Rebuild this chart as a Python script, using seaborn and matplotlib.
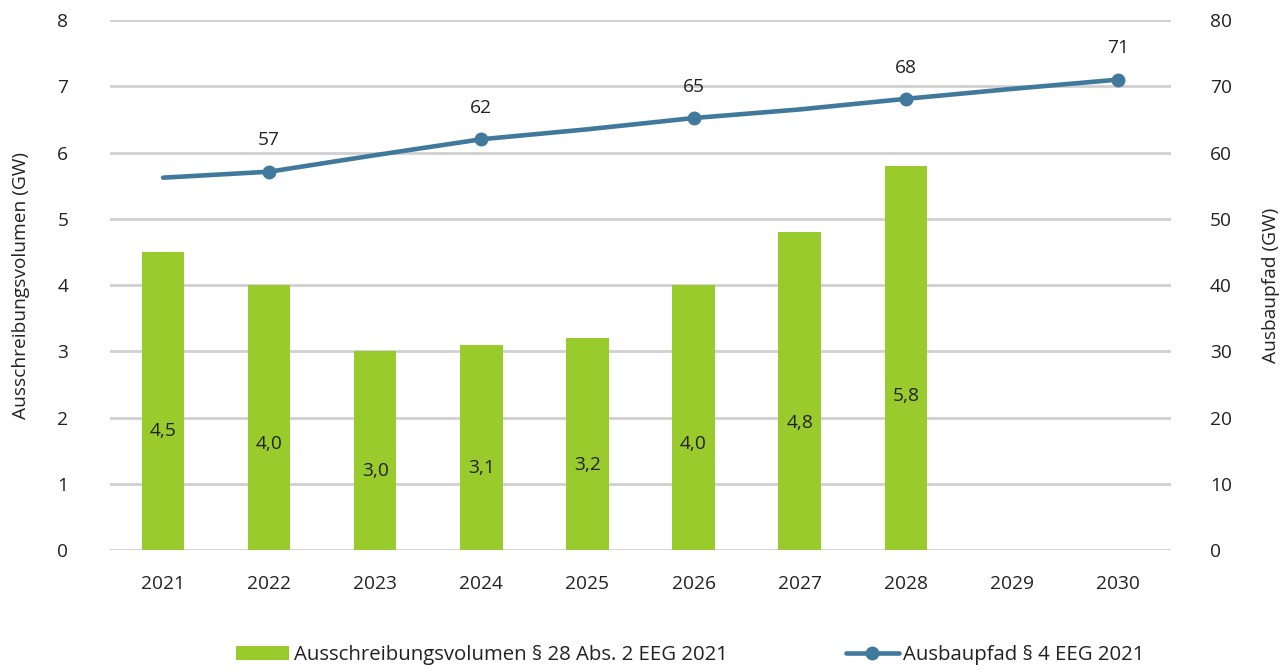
import matplotlib
matplotlib.use("Agg")
import matplotlib.pyplot as plt
import seaborn as sns
import pandas as pd
import numpy as np
from matplotlib.lines import Line2D
from matplotlib.patches import Patch

years = ["2021", "2022", "2023", "2024", "2025", "2026", "2027", "2028", "2029", "2030"]
volumen = [4.5, 4.0, 3.0, 3.1, 3.2, 4.0, 4.8, 5.8, np.nan, np.nan]
ausbaupfad = [56.2, 57.1, 59.6, 62.0, 63.5, 65.2, 66.5, 68.1, 69.6, 71.0]
marker_years = ["2022", "2024", "2026", "2028", "2030"]
line_labels = ["57", "62", "65", "68", "71"]

sns.set_theme(style="white")
plt.rcParams['font.family'] = ['Open Sans', 'DejaVu Sans']

GREEN = "#99CB2C"
BLUE = "#40799B"
GRID = "#D0D0D0"
TXT = "#222222"
FS = 13.8

df = pd.DataFrame({"Jahr": years, "Volumen": volumen, "Ausbaupfad": ausbaupfad})

fig = plt.figure(figsize=(12.88, 6.70), dpi=100)
ax = fig.add_axes([110/1288, 1-550/670, (1171-110)/1288, 530/670])

sns.barplot(data=df, x="Jahr", y="Volumen", color=GREEN, width=0.4, ax=ax,
            saturation=1, edgecolor="none", zorder=3)
ax.set_ylim(0, 8)
ax.set_xlim(-0.5, 9.5)
ax.set_yticks(range(0, 9))
for v in range(0, 9):
    ax.axhline(v, color=GRID, lw=2, zorder=1)
for s in ax.spines.values():
    s.set_visible(False)
ax.tick_params(axis="both", length=0, labelsize=FS, colors=TXT)
ax.tick_params(axis="x", pad=18)
ax.tick_params(axis="y", pad=30)
ax.set_xlabel("")
ax.set_ylabel("Ausschreibungsvolumen (GW)", fontsize=FS, color=TXT, labelpad=20)

for i, v in enumerate(volumen):
    if not np.isnan(v):
        ax.text(i, v * 0.4, f"{v:.1f}".replace(".", ","), ha="center", va="center",
                fontsize=FS, color=TXT, zorder=5)

ax2 = ax.twinx()
xpos = np.arange(len(years))
sns.lineplot(x=xpos, y=ausbaupfad, color=BLUE, lw=3.3, ax=ax2, zorder=4)
mi = [years.index(y) for y in marker_years]
ax2.plot(xpos[mi], np.array(ausbaupfad)[mi], "o", color=BLUE, ms=9, zorder=5)
for idx, lab in zip(mi, line_labels):
    ax2.annotate(lab, (xpos[idx], ausbaupfad[idx]), xytext=(0, 16), textcoords="offset points",
                 ha="center", va="bottom", fontsize=FS, color=TXT)
ax2.set_ylim(0, 80)
ax2.set_yticks(range(0, 81, 10))
ax2.set_xlim(-0.5, 9.5)
for s in ax2.spines.values():
    s.set_visible(False)
ax2.tick_params(axis="y", length=0, labelsize=FS, colors=TXT, pad=28)
ax2.set_ylabel("Ausbaupfad (GW)", fontsize=FS, color=TXT, labelpad=22)
ax2.grid(False)

handles = [Patch(facecolor=GREEN, edgecolor="none"),
           Line2D([0], [0], color=BLUE, lw=3.3, marker="o", ms=9)]
labels = ["Ausschreibungsvolumen § 28 Abs. 2 EEG 2021", "Ausbaupfad § 4 EEG 2021"]
fig.legend(handles, labels, loc="center", bbox_to_anchor=(0.536, 0.022), ncol=2,
           frameon=False, fontsize=14.7, handlelength=2.6, handletextpad=0.2,
           columnspacing=5.8, labelcolor=TXT)

fig.savefig("out.png", dpi=100)
